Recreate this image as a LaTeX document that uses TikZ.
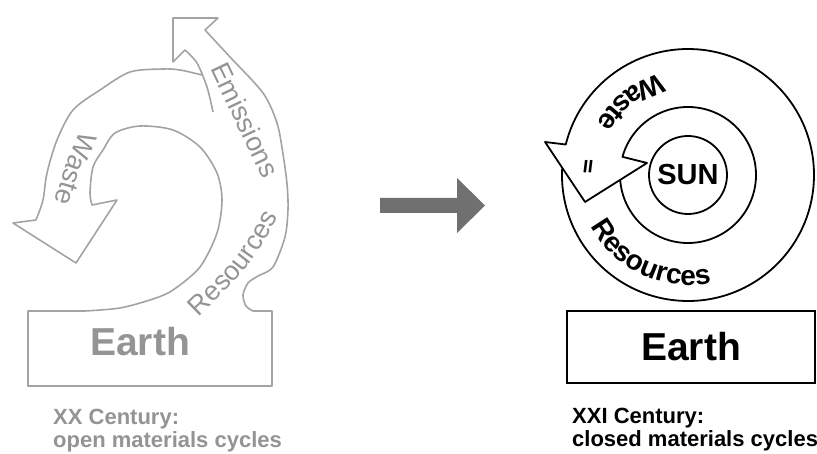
\documentclass[tikz,border=0pt]{standalone}
\usepackage{fontspec}
\setmainfont{Liberation Sans}
\usetikzlibrary{calc, decorations.text}

\definecolor{paleline}{RGB}{163,163,163}
\definecolor{paletext}{RGB}{148,148,148}
\definecolor{shiftgray}{RGB}{112,112,112}

\newcommand{\oldband}{\fontsize{27}{27}\selectfont}
\newcommand{\newband}{\fontsize{28}{28}\selectfont\bfseries}

\tikzstyle{oldflow} = [draw=paleline, line width=1.6pt, line join=round]
\tikzstyle{newflow} = [draw=black, line width=1.8pt, line join=round]
\tikzstyle{bandtext} = [decorate, decoration={text along path, text align=center}]
\tikzstyle{earthlabel} = [inner sep=0pt, font=\fontsize{39}{39}\selectfont\bfseries]
\tikzstyle{captionline} = [anchor=base west, inner sep=0pt, font=\fontsize{22}{22}\selectfont\bfseries]
\tikzstyle{sunnode} = [circle, draw=black, line width=1.8pt, minimum size=78pt, inner sep=0pt, font=\fontsize{29}{29}\selectfont\bfseries]

\begin{document}
\begin{tikzpicture}[x=1pt, y=1pt]
 \useasboundingbox (0,0) rectangle (817,454);

 % XX century: open cycle
 \draw[oldflow] plot[smooth] coordinates {(202,379) (180,384) (163,385) (130,382) (100,364) (73,344) (57,314) (47,281) (43,254) (36,234)}
   -- (13,231) -- (76,191) -- (117,254) -- (92,249)
   -- plot[smooth] coordinates {(92,249) (90,261) (93,287) (103,304) (115,321) (140,328) (173,324) (200,307) (217,281) (222,254) (217,221) (200,187) (173,164) (153,155) (120,146) (85,143)}
   -- (28,143) -- (28,68) -- (272,68) -- (272,143) -- (253,143)
   -- plot[smooth] coordinates {(253,143) (246,148) (243,159) (248,171) (258,178) (273,187) (285,217) (288,245) (287,270) (283,300) (277,331) (263,361) (230,397) (205,424)}
   -- (218,436) -- (173,436) -- (173,392) -- (185,404)
   -- plot[smooth] coordinates {(185,404) (197,391) (207,367) (213,342)};

 \path[bandtext, decoration={text={|\oldband|Waste}, text color=paletext}]
   (83,329) .. controls (65,287.5) .. (53,246);
 \path[bandtext, decoration={text={|\oldband|Emissions}, text color=paletext}]
   (208,390) .. controls (236.5,330) .. (265,270);
 \path[bandtext, decoration={text={|\oldband|Resources}, text color=paletext}]
   (190.6,129) .. controls (250,187) .. (284,247);

 \node (oldearth) [earthlabel, text=paletext] at (140,112.5) {Earth};
 \node (oldtitle) [captionline, text=paletext] at (53,29) {XX Century:};
 \node (oldsub) [captionline, text=paletext] at (53,6) {open materials cycles};

 % change over
 \fill[shiftgray] (380,256) -- (457,256) -- (457,276) -- (485,248.5) -- (457,221) -- (457,241) -- (380,241) -- cycle;

 % XXI century: closed cycle
 \coordinate (core) at (688,279);
 \node (sun) [sunnode] at (core) {SUN};
 \draw[newflow] ($(core)+(176.7:126)$) arc[start angle=176.7, end angle=526, radius=126]
   -- (545,312) -- (585,252) -- (647,291) -- ($(core)+(164.5:68)$)
   arc[start angle=164.5, end angle=-175.9, radius=68];
 \node (mark) [rotate=-7, font=\fontsize{18}{18}\selectfont\bfseries] at (588,287.5) {II};

 \path[bandtext, decoration={text={|\newband|Waste}}]
   ($(core)+(95:105)$) arc[start angle=95, end angle=161, radius=105];
 \path[bandtext, decoration={text={|\newband|Resources}}]
   ($(core)+(200:110)$) arc[start angle=200, end angle=290, radius=110];

 \node (newearth) [draw=black, line width=2.6pt, minimum width=248pt, minimum height=72pt, earthlabel] at (691,107) {Earth};
 \node (newtitle) [captionline] at (572,30) {XXI Century:};
 \node (newsub) [captionline] at (572,7) {closed materials cycles};
\end{tikzpicture}
\end{document}
